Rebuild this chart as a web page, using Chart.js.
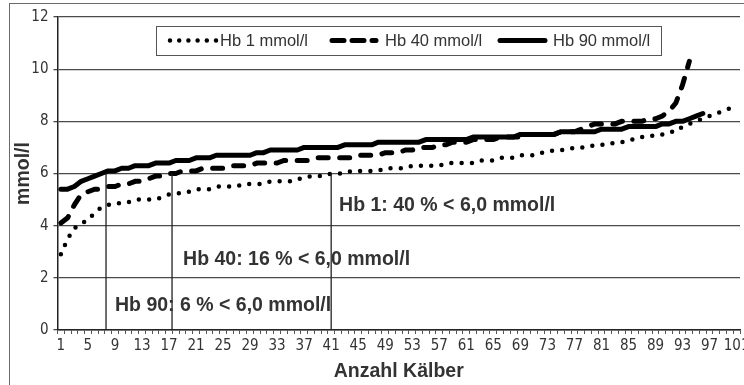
<!DOCTYPE html>
<html>
<head>
<meta charset="utf-8">
<script src="https://cdn.jsdelivr.net/npm/chart.js@4/dist/chart.umd.min.js"></script>
<style>
  html, body { margin: 0; padding: 0; background: #fff; }
  body { width: 744px; height: 385px; overflow: hidden; position: relative; }
  #frame { position: absolute; left: 9px; top: 3px; width: 800px; height: 500px; border: 1px solid #6b6b6b; }
  #chart { position: absolute; left: 0; top: 0; }
</style>
</head>
<body>
<div id="frame"></div>
<canvas id="chart" width="760" height="385"></canvas>
<script>
// Kälber 1..101 (Kategorien)
const calves = Array.from({length: 101}, (_, i) => String(i + 1))

// sortierte Werte je Kalb, mmol/l
const hb1 = [2.9, 3.5, 3.9, 4.1, 4.2, 4.5, 4.7, 4.8, 4.8, 4.9,
             4.9, 5.0, 5.0, 5.0, 5.0, 5.1, 5.2, 5.2, 5.3, 5.3,
             5.4, 5.4, 5.4, 5.5, 5.5, 5.5, 5.5, 5.6, 5.6, 5.6,
             5.6, 5.7, 5.7, 5.7, 5.7, 5.8, 5.8, 5.9, 5.9, 5.9,
             6.0, 6.0, 6.0, 6.1, 6.1, 6.1, 6.1, 6.1, 6.2, 6.2,
             6.2, 6.2, 6.3, 6.3, 6.3, 6.3, 6.3, 6.4, 6.4, 6.4,
             6.4, 6.4, 6.5, 6.5, 6.5, 6.6, 6.6, 6.6, 6.7, 6.7,
             6.7, 6.8, 6.8, 6.9, 6.9, 6.9, 7.0, 7.0, 7.0, 7.1,
             7.1, 7.1, 7.2, 7.2, 7.3, 7.3, 7.4, 7.4, 7.5, 7.5,
             7.6, 7.6, 7.8, 7.9, 8.0, 8.1, 8.2, 8.3, 8.4, 8.5,
             8.6]
const hb40 = [4.1, 4.3, 4.8, 5.2, 5.3, 5.4, 5.4, 5.5, 5.5, 5.6,
              5.6, 5.7, 5.7, 5.8, 5.9, 5.9, 6.0, 6.0, 6.1, 6.1,
              6.1, 6.2, 6.2, 6.2, 6.2, 6.3, 6.3, 6.3, 6.3, 6.4,
              6.4, 6.4, 6.4, 6.5, 6.5, 6.5, 6.5, 6.5, 6.6, 6.6,
              6.6, 6.6, 6.6, 6.6, 6.7, 6.7, 6.7, 6.7, 6.8, 6.8,
              6.8, 6.9, 6.9, 7.0, 7.0, 7.0, 7.1, 7.1, 7.2, 7.2,
              7.2, 7.3, 7.3, 7.3, 7.3, 7.4, 7.4, 7.4, 7.4, 7.5,
              7.5, 7.5, 7.5, 7.5, 7.6, 7.6, 7.6, 7.7, 7.8, 7.9,
              7.9, 7.9, 7.9, 8.0, 8.0, 8.0, 8.0, 8.1, 8.1, 8.2,
              8.4, 8.7, 9.4, 10.3]
const hb90 = [5.4, 5.4, 5.5, 5.7, 5.8, 5.9, 6.0, 6.1, 6.1, 6.2,
              6.2, 6.3, 6.3, 6.3, 6.4, 6.4, 6.4, 6.5, 6.5, 6.5,
              6.6, 6.6, 6.6, 6.7, 6.7, 6.7, 6.7, 6.7, 6.7, 6.8,
              6.8, 6.9, 6.9, 6.9, 6.9, 6.9, 7.0, 7.0, 7.0, 7.0,
              7.0, 7.0, 7.1, 7.1, 7.1, 7.1, 7.1, 7.2, 7.2, 7.2,
              7.2, 7.2, 7.2, 7.2, 7.3, 7.3, 7.3, 7.3, 7.3, 7.3,
              7.3, 7.4, 7.4, 7.4, 7.4, 7.4, 7.4, 7.4, 7.5, 7.5,
              7.5, 7.5, 7.5, 7.5, 7.6, 7.6, 7.6, 7.6, 7.6, 7.6,
              7.7, 7.7, 7.7, 7.7, 7.8, 7.8, 7.8, 7.8, 7.8, 7.9,
              7.9, 8.0, 8.0, 8.1, 8.2, 8.3]
const seriesNames = ['Hb 1 mmol/l', 'Hb 40 mmol/l', 'Hb 90 mmol/l']

// Grenze 6,0 mmol/l: senkrechte Linien (Kalb-Index, 0-basiert)
const cutY = 6
const cutX = [40, 16.45, 6.68]
const noteText = ['Hb 1: 40 % < 6,0 mmol/l', 'Hb 40: 16 % < 6,0 mmol/l', 'Hb 90: 6 % < 6,0 mmol/l']
const noteX = [41.17, 18.08, 8.01]
const noteY = [4.76, 2.69, 0.92]

const plainFont = '"Liberation Sans", Arial, sans-serif'
const narrowFont = '"Liberation Sans Narrow", "DejaVu Sans Condensed", "Liberation Sans", sans-serif'
const textColor = '#333'

const notesPlugin = {
    id: 'notes',
    afterDatasetsDraw(chart) {
        const {ctx, scales: {x, y}} = chart
        ctx.save()
        ctx.strokeStyle = '#222'
        ctx.lineWidth = 1.3
        cutX.forEach(v => {
            const px = x.getPixelForValue(v)
            ctx.beginPath()
            ctx.moveTo(px, y.getPixelForValue(cutY))
            ctx.lineTo(px, y.getPixelForValue(0))
            ctx.stroke()
        })
        ctx.fillStyle = textColor
        ctx.font = 'bold 19.5px ' + plainFont
        ctx.textBaseline = 'middle'
        noteText.forEach((t, i) => {
            ctx.fillText(t, x.getPixelForValue(noteX[i]), y.getPixelForValue(noteY[i]))
        })
        ctx.restore()
    }
}

// Legende im Rahmen, wie im Original
const legendBox = {
    id: 'legendBox',
    afterDraw(chart) {
        const ctx = chart.ctx
        const sampleStart = [170, 332, 500]
        const sampleEnd = [216, 376, 545]
        const sampleDash = [[0, 9.2], [12, 8], []]
        const textStart = [220, 385, 553]
        const midY = 40.5
        ctx.save()
        ctx.fillStyle = '#fff'
        ctx.fillRect(156, 26, 505, 29)
        ctx.strokeStyle = '#555'
        ctx.lineWidth = 1
        ctx.strokeRect(156.5, 26.5, 505, 29)
        chart.data.datasets.forEach((ds, i) => {
            ctx.beginPath()
            ctx.strokeStyle = '#000'
            ctx.lineWidth = ds.borderWidth
            ctx.lineCap = 'round'
            ctx.setLineDash(sampleDash[i])
            ctx.moveTo(sampleStart[i], midY)
            ctx.lineTo(sampleEnd[i], midY)
            ctx.stroke()
            ctx.setLineDash([])
            ctx.fillStyle = textColor
            ctx.font = '16.5px ' + plainFont
            ctx.textBaseline = 'middle'
            ctx.fillText(seriesNames[i], textStart[i], midY + 0.5)
        })
        ctx.restore()
    }
}

new Chart(document.getElementById('chart'), {
    type: 'line',
    data: {
        labels: calves,
        datasets: [{
            label: seriesNames[0],
            data: hb1,
            borderColor: '#000',
            borderWidth: 4.5,
            borderDash: [0, 10.3],
            borderCapStyle: 'round',
            pointRadius: 0,
            tension: 0,
            fill: false
        }, {
            label: seriesNames[1],
            data: hb40,
            borderColor: '#000',
            borderWidth: 5,
            borderDash: [10, 11.5],
            borderCapStyle: 'round',
            pointRadius: 0,
            tension: 0,
            fill: false
        }, {
            label: seriesNames[2],
            data: hb90,
            borderColor: '#000',
            borderWidth: 5,
            borderCapStyle: 'round',
            borderJoinStyle: 'round',
            pointRadius: 0,
            tension: 0,
            fill: false
        }]
    },
    options: {
        responsive: false,
        animation: false,
        layout: { padding: { top: 17, right: 20, bottom: 0, left: 0 } },
        plugins: { legend: { display: false }, tooltip: { enabled: false } },
        scales: {
            x: {
                offset: true,
                grid: { offset: true, drawOnChartArea: false, drawTicks: true, tickLength: 4, color: '#555', lineWidth: 1 },
                border: { display: true, color: '#222', width: 1.5 },
                ticks: {
                    autoSkip: false, maxRotation: 0, minRotation: 0, padding: 3,
                    color: textColor, font: { family: narrowFont, size: 15 },
                    callback: (v, i) => (i % 4 === 0 ? calves[i] : '')
                },
                title: {
                    display: true, text: 'Anzahl Kälber', color: textColor,
                    font: { family: plainFont, size: 19.5, weight: 'bold' },
                    padding: { top: 0, bottom: 2 }
                },
                afterFit: s => { s.height = 55 }
            },
            y: {
                min: 0, max: 12,
                grid: { color: '#4a4a4a', lineWidth: 1.3, tickLength: 4 },
                border: { display: true, color: '#222', width: 1.5 },
                ticks: { stepSize: 2, padding: 5, color: textColor, font: { family: narrowFont, size: 15 } },
                title: {
                    display: true, text: 'mmol/l', color: textColor,
                    font: { family: plainFont, size: 19.5, weight: 'bold' },
                    padding: { top: 12, bottom: 0 }
                },
                afterFit: s => { s.width = 57.5 }
            }
        }
    },
    plugins: [notesPlugin, legendBox]
})
</script>
</body>
</html>
